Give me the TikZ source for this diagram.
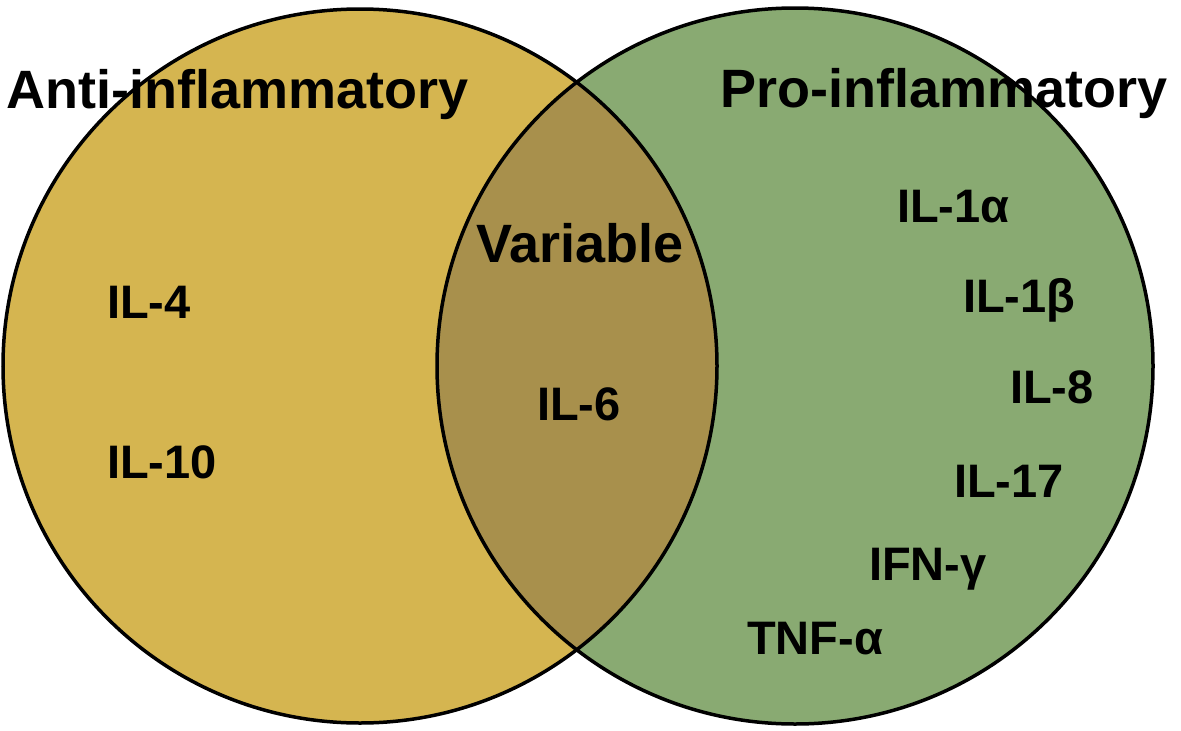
\documentclass[tikz,border=0pt]{standalone}
\usepackage{fontspec}
\setmainfont{Liberation Sans}
\definecolor{antigold}{HTML}{D5B550}
\definecolor{progreen}{HTML}{89AA72}
\definecolor{mixbrown}{HTML}{A8904C}

\begin{document}
\begin{tikzpicture}[x=1pt,y=-1pt,
    ring/.style={line width=3.5pt},
    headlbl/.style={font=\fontsize{54}{60}\selectfont\bfseries, inner sep=0pt, anchor=base west},
    cytolbl/.style={font=\fontsize{47}{52}\selectfont\bfseries, inner sep=0pt, anchor=base west}]

    \useasboundingbox (0,0) rectangle (1181,731);

    % Fills of the two sets and their overlap
    \fill[antigold] (360,366) circle (357);
    \fill[progreen] (795,366) circle (358);
    \begin{scope}
        \clip (360,366) circle (357);
        \fill[mixbrown] (795,366) circle (358);
    \end{scope}

    % Outlines
    \draw[ring] (360,366) circle (357);
    \draw[ring] (795,366) circle (358);

    % Set titles
    \node[headlbl] (antilbl) at (6,108) {Anti-inflammatory};
    \node[headlbl] (prolbl) at (720,107) {Pro-inflammatory};
    \node[headlbl] (varlbl) at (476,262) {Variable};

    % Anti-inflammatory cytokines
    \node[cytolbl] (il4) at (107,318) {IL-4};
    \node[cytolbl] (il10) at (107,478) {IL-10};

    % Shared
    \node[cytolbl] (il6) at (537,420) {IL-6};

    % Pro-inflammatory cytokines
    \node[cytolbl] (il1a) at (897,222) {IL-1α};
    \node[cytolbl] (il1b) at (963,312) {IL-1β};
    \node[cytolbl] (il8) at (1010,403) {IL-8};
    \node[cytolbl] (il17) at (954,497) {IL-17};
    \node[cytolbl] (ifng) at (869,580) {IFN-γ};
    \node[cytolbl] (tnfa) at (747,654) {TNF-α};

\end{tikzpicture}
\end{document}
